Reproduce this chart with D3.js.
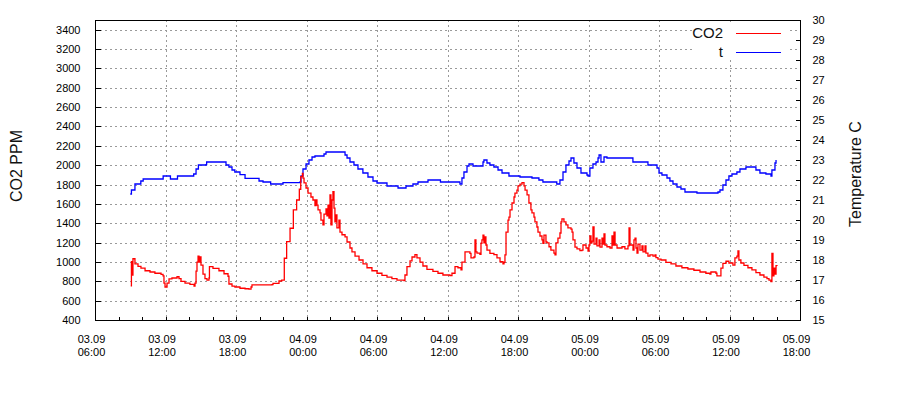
<!DOCTYPE html>
<html>
<head>
<meta charset="utf-8">
<script src="https://cdn.jsdelivr.net/npm/d3@7"></script>
<style>
  html, body { margin: 0; padding: 0; background: #fff; }
  svg { display: block; font-family: "Liberation Sans", Arial, sans-serif; }
</style>
</head>
<body>
<svg id="chart" width="900" height="400"></svg>
<script>
// ---- data (hours since 03.09 00:00) ----
const co2Hours = [9.04,9.1,9.15,9.23,9.4,9.66,9.91,10.26,10.68,11.1,11.62,11.79,11.87,11.96,12.13,12.3,12.55,12.98,13.15,13.32,13.66,14.08,14.43,14.51,14.6,14.68,14.77,14.85,14.94,15.02,15.19,15.36,15.53,15.7,15.74,16.04,16.55,16.98,17.32,17.4,17.66,17.91,18.34,18.77,19.1,19.28,19.36,21.06,21.15,21.66,21.89,22.11,22.31,22.6,22.88,23.16,23.39,23.51,23.65,23.7,23.79,23.96,24.13,24.38,24.55,24.72,24.81,24.89,24.98,25.15,25.23,25.4,25.49,25.66,25.74,25.83,25.91,26.0,26.08,26.17,26.25,26.34,26.42,26.51,26.59,26.76,26.85,27.02,27.28,27.45,27.7,27.87,28.13,28.47,28.81,29.15,29.57,30.0,30.42,30.85,31.27,31.7,32.3,32.38,32.55,32.81,32.98,33.23,33.4,33.66,33.91,34.25,34.76,35.19,35.61,36.21,36.38,36.64,36.89,37.15,37.23,37.49,37.91,38.0,38.25,38.34,38.42,38.51,38.76,38.85,38.93,39.02,39.1,39.19,39.27,39.36,39.61,39.95,40.21,40.47,40.72,40.81,40.89,40.98,41.15,41.23,41.32,41.49,41.66,41.74,41.91,42.0,42.17,42.34,42.51,42.6,42.77,42.93,43.1,43.19,43.36,43.44,43.61,43.7,43.87,44.04,44.12,44.21,44.38,44.47,44.64,44.8,45.06,45.15,45.23,45.4,45.57,45.66,45.74,45.91,46.08,46.25,46.51,46.6,46.68,46.85,47.02,47.27,47.44,47.53,47.79,47.96,48.04,48.12,48.21,48.3,48.38,48.47,48.64,48.72,48.9,48.98,49.15,49.23,49.32,49.4,49.57,49.83,50.0,50.09,50.17,50.26,50.43,50.68,50.85,51.1,51.36,51.45,51.53,51.79,51.87,51.96,52.04,52.13,52.21,52.38,52.55,52.64,52.81,52.89,53.06,53.23,53.49,53.66,53.74,53.91,54.17,54.59,55.02,55.44,55.95,56.46,56.97,57.49,57.99,58.33,58.42,58.59,58.85,58.93,59.19,59.27,59.44,59.7,59.95,60.29,60.46,60.63,60.72,60.8,60.97,61.23,61.57,61.91,62.25,62.59,62.93,63.19,63.36,63.53,63.61,63.7,63.78,63.87,63.96,64.04];
const co2Values = [754,1002,865,1033,979,955,937,909,896,883,872,855,782,741,782,824,834,847,827,800,782,769,751,782,906,999,1061,999,1051,968,875,827,813,834,951,934,909,878,852,772,751,741,728,723,720,741,762,765,779,803,813,1038,1209,1348,1537,1640,1751,1881,1916,1867,1816,1764,1712,1671,1640,1581,1640,1588,1537,1506,1433,1382,1495,1547,1475,1588,1454,1692,1382,1640,1726,1557,1413,1485,1351,1433,1309,1281,1258,1206,1144,1103,1061,1020,979,940,909,883,862,844,827,813,806,865,951,1010,1051,1075,1041,999,958,924,903,883,865,858,883,951,940,917,999,1103,1089,1041,1051,1227,1103,1092,1079,1193,1227,1278,1196,1258,1175,1123,1089,1075,1041,1002,979,996,1072,1309,1433,1464,1537,1609,1671,1712,1743,1785,1805,1819,1785,1743,1692,1609,1537,1506,1464,1413,1361,1309,1268,1227,1193,1278,1206,1196,1157,1123,1092,1072,1196,1247,1299,1413,1444,1413,1382,1351,1340,1309,1227,1154,1134,1116,1123,1175,1144,1113,1175,1268,1196,1216,1361,1185,1247,1165,1227,1154,1247,1185,1289,1175,1157,1144,1268,1175,1309,1175,1144,1144,1157,1134,1165,1351,1175,1123,1227,1247,1144,1092,1185,1123,1165,1103,1165,1092,1061,1072,1061,1072,1044,1030,1020,996,979,958,940,927,914,896,883,875,896,896,883,855,855,937,986,1007,989,968,1041,1061,1113,1020,989,965,940,917,889,865,844,827,813,796,1089,855,937,875,961,958];

const tempHours = [9.0,9.1,9.4,9.9,10.1,11.7,11.8,12.38,12.42,13.0,13.02,14.3,14.4,14.6,14.8,15.45,15.5,17.0,17.15,17.4,17.66,17.9,18.34,18.77,19.96,20.3,20.95,22.0,23.45,23.53,23.7,23.96,24.21,24.47,24.72,25.49,25.66,27.1,27.28,27.45,27.7,28.04,28.38,28.8,29.23,29.66,30.0,30.85,31.79,32.47,33.06,33.49,34.34,35.4,36.89,37.06,37.23,37.4,37.66,37.83,38.17,38.5,39.02,39.1,39.36,39.61,39.95,40.3,40.64,41.23,42.17,43.02,43.19,43.78,44.12,45.15,45.3,45.57,45.83,46.08,46.34,46.51,46.76,47.02,47.36,47.87,47.96,48.12,48.38,48.64,48.81,48.9,49.06,49.32,49.57,51.7,51.78,52.97,53.06,53.66,53.83,54.0,54.25,54.68,54.93,55.19,55.53,55.87,56.21,57.23,59.02,59.19,59.44,59.7,59.95,60.21,60.63,60.89,61.4,62.0,62.25,62.59,63.1,63.53,63.61,63.87,63.96];
const tempValues = [21.3,21.5,21.8,21.95,22.05,22.05,22.2,22.2,22.05,22.05,22.2,22.2,22.3,22.55,22.75,22.77,22.9,22.9,22.75,22.65,22.5,22.4,22.27,22.08,21.95,21.9,21.8,21.87,21.9,22.2,22.55,22.8,23.0,23.15,23.2,23.3,23.4,23.4,23.25,23.1,22.9,22.75,22.55,22.35,22.15,21.95,21.85,21.7,21.6,21.7,21.8,21.9,22.0,21.9,21.9,21.8,22.1,22.4,22.7,22.8,22.7,22.7,22.9,23.0,22.85,22.75,22.65,22.5,22.35,22.2,22.15,22.15,22.1,22.0,21.9,21.9,21.8,22.0,22.4,22.75,22.95,23.1,22.85,22.6,22.35,22.25,22.2,22.6,22.8,22.9,23.1,23.25,22.9,23.15,23.1,23.1,22.9,22.9,22.75,22.75,22.6,22.35,22.25,22.1,21.95,21.8,21.65,21.55,21.4,21.35,21.4,21.5,21.75,22.0,22.2,22.3,22.4,22.55,22.65,22.65,22.5,22.35,22.3,22.2,22.5,22.85,23.0];

const co2Ticks = [400,600,800,1000,1200,1400,1600,1800,2000,2200,2400,2600,2800,3000,3200,3400];
const tempTicks = [15,16,17,18,19,20,21,22,23,24,25,26,27,28,29,30];
const xTickHours = [6,12,18,24,30,36,42,48,54,60,66];
const xTickDays = ["03.09","03.09","03.09","04.09","04.09","04.09","04.09","05.09","05.09","05.09","05.09"];
const xTickTimes = ["06:00","12:00","18:00","00:00","06:00","12:00","18:00","00:00","06:00","12:00","18:00"];
const seriesNames = ["CO2", "t"];
const seriesColors = ["#ff0000", "#0000ff"];

// ---- layout ----
const L = 95, R = 800, T = 20, B = 320;
const svg = d3.select("#chart");

const x = d3.scaleLinear().domain([6, 66]).range([L, R]);
const yC = d3.scaleLinear().domain([400, 3500]).range([B, T]);
const yT = d3.scaleLinear().domain([15, 30]).range([B, T]);

// grid
const grid = svg.append("g").attr("stroke", "#9a9a9a").attr("stroke-dasharray", "2,3")
  .attr("shape-rendering", "crispEdges");
grid.selectAll("line.h").data(co2Ticks.filter(v => v > 400)).join("line")
  .attr("x1", L).attr("x2", R)
  .attr("y1", d => Math.round(yC(d)) + 0.5).attr("y2", d => Math.round(yC(d)) + 0.5);
grid.selectAll("line.v").data(xTickHours.slice(1, -1)).join("line")
  .attr("y1", T).attr("y2", B)
  .attr("x1", d => Math.round(x(d)) + 0.5).attr("x2", d => Math.round(x(d)) + 0.5);

// series
const co2Data = co2Hours.map((h, i) => ({h, v: co2Values[i]}));
const tData = tempHours.map((h, i) => ({h, v: tempValues[i]}));
const lineC = d3.line().x(d => x(d.h)).y(d => yC(d.v)).curve(d3.curveStepAfter);
const lineT = d3.line().x(d => x(d.h)).y(d => yT(d.v)).curve(d3.curveStepAfter);
svg.append("path").datum(tData).attr("d", lineT)
  .attr("fill", "none").attr("stroke", seriesColors[1]).attr("stroke-width", 1.3);
svg.append("path").datum(co2Data).attr("d", lineC)
  .attr("fill", "none").attr("stroke", seriesColors[0]).attr("stroke-width", 1.3);

// legend (white background)
svg.append("rect").attr("x", 692).attr("y", 22).attr("width", 96).attr("height", 38).attr("fill", "#fff");
const legY = [33.5, 52.5];
seriesNames.forEach((n, i) => {
  svg.append("text").attr("x", 723).attr("y", legY[i] + 4.5)
    .attr("text-anchor", "end").attr("font-size", 15).attr("fill", "#111").text(n);
  svg.append("line").attr("x1", 736).attr("x2", 781).attr("y1", legY[i]).attr("y2", legY[i])
    .attr("stroke", seriesColors[i]).attr("stroke-width", 1.2);
});

// border
svg.append("rect").attr("x", L + 0.5).attr("y", T + 0.5).attr("width", R - L).attr("height", B - T)
  .attr("fill", "none").attr("stroke", "#000").attr("shape-rendering", "crispEdges");

// left axis
const axL = svg.append("g").attr("transform", `translate(${L + 0.5},0)`)
  .call(d3.axisLeft(yC).tickValues(co2Ticks).tickFormat(d3.format("d")).tickSize(-5).tickPadding(15));
axL.select(".domain").remove();
axL.selectAll("text").attr("font-size", 11).attr("font-family", "Liberation Sans, Arial, sans-serif").attr("fill", "#000");
axL.selectAll("line").attr("shape-rendering", "crispEdges");

// right axis
const axR = svg.append("g").attr("transform", `translate(${R + 0.5},0)`)
  .call(d3.axisRight(yT).tickValues(tempTicks).tickFormat(d3.format("d")).tickSize(-5).tickPadding(12));
axR.select(".domain").remove();
axR.selectAll("text").attr("font-size", 11).attr("font-family", "Liberation Sans, Arial, sans-serif").attr("fill", "#000");
axR.selectAll("line").attr("shape-rendering", "crispEdges");

// bottom ticks (major + minor, inside)
const minor = d3.range(6, 66.01, 2);
svg.append("g").selectAll("line").data(minor).join("line")
  .attr("x1", d => Math.round(x(d)) + 0.5).attr("x2", d => Math.round(x(d)) + 0.5)
  .attr("y1", B).attr("y2", B - 3).attr("stroke", "#000").attr("shape-rendering", "crispEdges");

// bottom labels
const xl = svg.append("g").attr("font-size", 11).attr("fill", "#000").attr("text-anchor", "middle");
xTickHours.forEach((h, i) => {
  const t = xl.append("text").attr("x", x(h) - 3.5).attr("y", 343);
  t.append("tspan").attr("x", x(h) - 3.5).attr("y", 343).text(xTickDays[i]);
  t.append("tspan").attr("x", x(h) - 3.5).attr("y", 356).text(xTickTimes[i]);
});

// axis titles
svg.append("text").attr("transform", "translate(22,166) rotate(-90)")
  .attr("text-anchor", "middle").attr("font-size", 16).attr("fill", "#111").text("CO2 PPM");
svg.append("text").attr("transform", "translate(861,174) rotate(-90)")
  .attr("text-anchor", "middle").attr("font-size", 16).attr("fill", "#111").text("Temperature C");
</script>
</body>
</html>
